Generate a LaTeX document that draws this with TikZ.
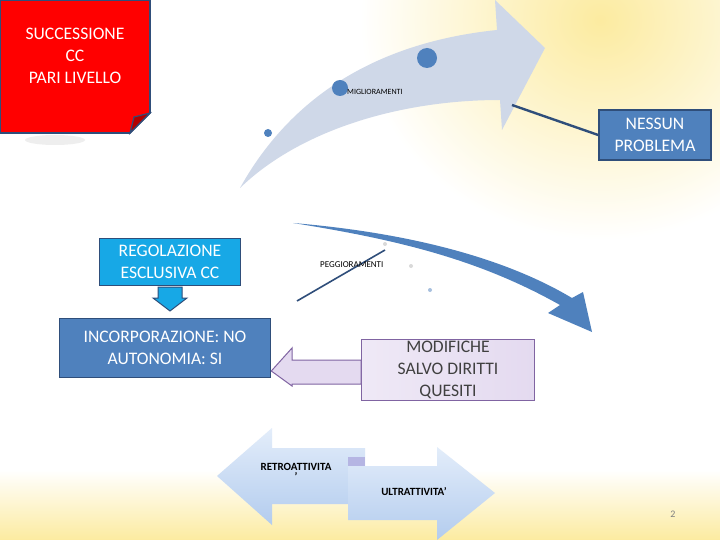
\documentclass[tikz,border=0pt]{standalone}
\usepackage{fontspec}
\setmainfont{Carlito}
\definecolor{bluegrey}{HTML}{CFD8E8}
\definecolor{accent}{HTML}{4F81BD}
\definecolor{dark}{HTML}{2F4E7A}
\definecolor{cyanb}{HTML}{17A8E6}
\definecolor{lav}{HTML}{E4DAF0}
\definecolor{lavb}{HTML}{8064A2}
\definecolor{lb1}{HTML}{E3EDFA}
\definecolor{lb2}{HTML}{B3CCEE}
\definecolor{yel}{HTML}{FCEBA0}
\begin{document}
\begin{tikzpicture}[x=1pt,y=-1pt,
  box/.style={draw=#1,line width=1.6pt,align=center,inner sep=2pt,font=\fontsize{17.6}{22}\selectfont},
  lbl/.style={font=\fontsize{8}{9}\selectfont,inner sep=0pt}]
\useasboundingbox (0,0) rectangle (720,540);
\fill[white] (0,0) rectangle (720,540);
% background yellow glows
\shade[top color=white, bottom color=yel] (0,470) rectangle (720,540);
\shade[inner color=yel, outer color=white] (360,-200) rectangle (840,240);
% upper arrow
\fill[bluegrey] (240,188) .. controls (300,80) and (400,40) .. (497,30) -- (495,0) -- (545,48) -- (502,130) -- (500,100) .. controls (400,100) and (300,130) .. (240,188) -- cycle;
\fill[accent] (268,133) circle (4);
\fill[accent] (340,88) circle (8);
\fill[accent] (427,58) circle (10);
\node[lbl,anchor=west] (mig) at (347,92) {MIGLIORAMENTI};
% red note
\fill[gray!25,opacity=0.5] (55,140) ellipse (30 and 5);
\draw[line width=1.6pt,draw=dark,fill=red] (0,0) -- (150,0) -- (150,113) -- (130,133) -- (0,133) -- cycle;
\draw[line width=1.2pt,draw=dark,fill=red!70!black] (150,113) -- (134,117) -- (130,133) -- cycle;
\node[align=center,text=white,font=\fontsize{17.6}{22}\selectfont] (succ) at (75,56) {SUCCESSIONE\\CC\\PARI LIVELLO};
% nessun problema
\node[box=dark,fill=accent,text=white,minimum width=112pt,minimum height=50pt] (nes) at (655,135) {NESSUN\\PROBLEMA};
\coordinate (nl) at (512,105);
\draw[dark,line width=2.4pt] (nl) -- (nes.west);
% lower arrow
\fill[accent] (293,223) .. controls (400,240) and (480,260) .. (560,305) -- (548,313) -- (592,332) -- (583,292) -- (572,298) .. controls (500,255) and (400,232) .. (293,223) -- cycle;
\fill[gray!30] (385,244) circle (2);
\fill[gray!30] (411,266) circle (2);
\fill[accent!50] (430,290) circle (2);
\coordinate (pa) at (385,250);
\coordinate (pb) at (297,301);
\draw[dark,line width=1.6pt] (pa) -- (pb);
\node[lbl,anchor=west,font=\fontsize{9}{10}\selectfont] (peg) at (320,265) {PEGGIORAMENTI};
% regolazione
\node[box=dark,fill=cyanb,text=white,minimum width=141pt,minimum height=47pt] (reg) at (170,262) {REGOLAZIONE\\ESCLUSIVA CC};
\fill[cyanb,draw=dark,line width=1pt] (158,287) -- (182,287) -- (182,298) -- (187,298) -- (170,311) -- (153,298) -- (158,298) -- cycle;
% incorporazione
\node[box=dark,fill=accent,text=white,minimum width=211pt,minimum height=59pt] (inc) at (165,348) {INCORPORAZIONE: NO\\AUTONOMIA: SI};
% modifiche
\node[box=lavb,line width=1pt,left color=lav!60,right color=lav,text=black!75,minimum width=173pt,minimum height=60pt] (mod) at (448,370) {MODIFICHE\\SALVO DIRITTI\\QUESITI};
\draw[lavb,line width=1pt,fill=lav] (mod.west|-0,360) -- (292,360) -- (292,348) -- (inc.east|-0,371) -- (292,386) -- (292,384) -- (mod.west|-0,384) -- cycle;
% bottom arrows
\shade[top color=lb1,bottom color=lb2] (217,476) -- (272,428) -- (272,448) -- (365,448) -- (365,504) -- (272,504) -- (272,525) -- cycle;
\fill[gray!55!blue!40] (348,457) rectangle (365,473);
\shade[top color=lb1,bottom color=lb2] (348,466) -- (437,466) -- (437,447) -- (495,493) -- (437,540) -- (437,520) -- (348,520) -- cycle;
\node[font=\bfseries\fontsize{11}{12}\selectfont,align=center,inner sep=0pt] (retro) at (296,472) {RETROATTIVITA\\[-2pt]'};
\node[font=\bfseries\fontsize{11}{12}\selectfont,inner sep=0pt] (ultra) at (414,492) {ULTRATTIVITA'};
\node[text=gray,font=\fontsize{10}{11}\selectfont] (num) at (673,514) {2};
\end{tikzpicture}
\end{document}
